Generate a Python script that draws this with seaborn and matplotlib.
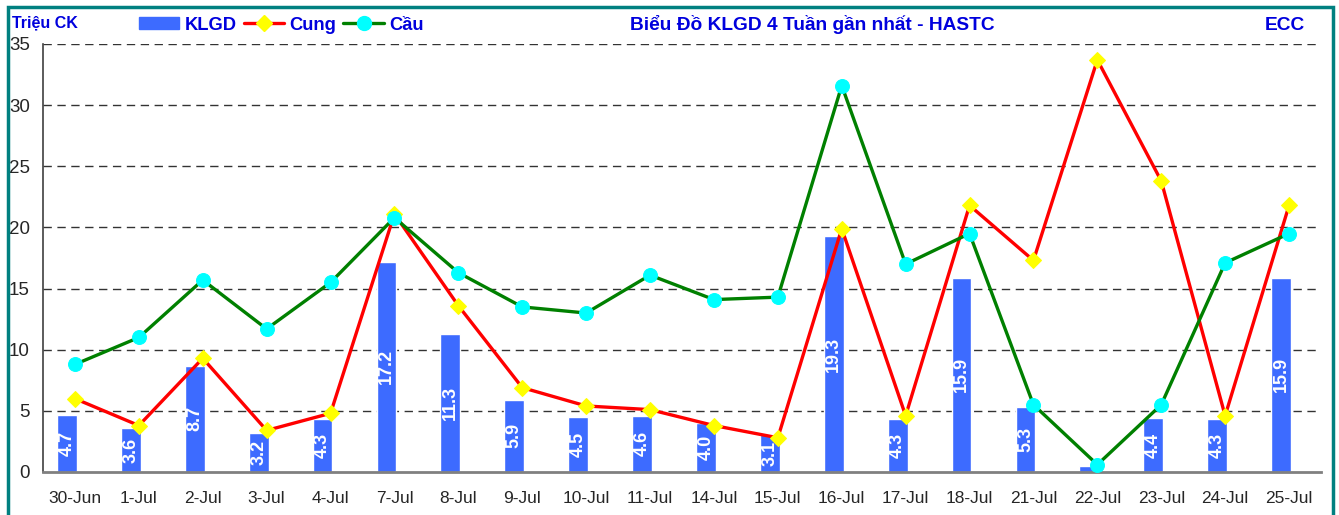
import matplotlib
matplotlib.use('Agg')
import matplotlib.pyplot as plt
import matplotlib.patches as mpatches
from matplotlib.lines import Line2D
import seaborn as sns
import pandas as pd
import numpy as np

# du lieu doc tu bieu do
dates = ['30-Jun', '1-Jul', '2-Jul', '3-Jul', '4-Jul', '7-Jul', '8-Jul', '9-Jul', '10-Jul', '11-Jul',
         '14-Jul', '15-Jul', '16-Jul', '17-Jul', '18-Jul', '21-Jul', '22-Jul', '23-Jul', '24-Jul', '25-Jul']
klgd = [4.7, 3.6, 8.7, 3.2, 4.3, 17.2, 11.3, 5.9, 4.5, 4.6,
        4.0, 3.1, 19.3, 4.3, 15.9, 5.3, 0.5, 4.4, 4.3, 15.9]
cung = [6.0, 3.8, 9.3, 3.4, 4.8, 21.1, 13.6, 6.9, 5.4, 5.1,
        3.8, 2.8, 19.9, 4.6, 21.8, 17.3, 33.7, 23.8, 4.6, 21.8]
cau = [8.8, 11.0, 15.7, 11.7, 15.5, 20.8, 16.3, 13.5, 13.0, 16.1,
       14.1, 14.3, 31.6, 17.0, 19.5, 5.5, 0.6, 5.5, 17.1, 19.5]

BAR_COLOR = '#3D6BFF'
TXT_BLUE = '#0000DD'

sns.set_style('white')
plt.rcParams['font.family'] = ['Liberation Sans', 'DejaVu Sans']

fig = plt.figure(figsize=(13.39, 5.15), dpi=100)
ax = fig.add_axes([43 / 1339, 43 / 515, 1278 / 1339, 428 / 515])

# cot KLGD (them mot nhom rong de cot lech trai nhu Excel)
df = pd.DataFrame({
    'ngay': dates * 2,
    'gt': klgd + [0] * len(dates),
    'loai': ['KLGD'] * len(dates) + ['pad'] * len(dates),
})
sns.barplot(data=df, x='ngay', y='gt', hue='loai', hue_order=['KLGD', 'pad'],
            palette={'KLGD': BAR_COLOR, 'pad': (1, 1, 1, 0)}, width=0.6, gap=0,
            dodge=True, legend=False, ax=ax, saturation=1, zorder=2)

bars = ax.containers[0]
for b in bars:
    b.set_x(b.get_x() + 0.02)
    b.set_width(0.31)
labels = [f'{v:.1f}' if v >= 1 else '' for v in klgd]
ax.bar_label(bars, labels=labels, label_type='center', rotation=90, color='white',
             fontsize=13, fontweight='bold')

x = np.arange(len(dates))
sns.lineplot(x=x, y=cung, ax=ax, color='#FF0000', lw=2.4, marker='D', markersize=8,
             markerfacecolor='#FFFF00', markeredgecolor='#FFFF00', zorder=4)
sns.lineplot(x=x, y=cau, ax=ax, color='#008000', lw=2.4, marker='o', markersize=10,
             markerfacecolor='#00FFFF', markeredgecolor='#00FFFF', zorder=5)

ax.set_xlim(-0.5, len(dates) - 0.5)
ax.set_ylim(0, 35)
ax.set_yticks(range(0, 36, 5))
ax.set_xticks(x)
ax.set_xticklabels(dates, fontsize=12.5)
ax.tick_params(axis='y', labelsize=13.5, direction='inout', length=7, width=1, pad=6)
ax.tick_params(axis='x', length=0, pad=14)
ax.set_xlabel('')
ax.set_ylabel('')

for y in range(5, 36, 5):
    ax.axhline(y, color='#333333', lw=1, dashes=(6, 4), zorder=1)

for s in ['top', 'right']:
    ax.spines[s].set_visible(False)
ax.spines['left'].set_color('#404040')
ax.spines['left'].set_linewidth(1.2)
ax.spines['bottom'].set_color('#808080')
ax.spines['bottom'].set_linewidth(2)

# chu tren dau
fig.text(12 / 1339, 1 - 23 / 515, 'Triệu CK', color=TXT_BLUE, fontsize=11.5,
         fontweight='bold', va='center', ha='left')
fig.text(812 / 1339, 1 - 25 / 515, 'Biểu Đồ KLGD 4 Tuần gần nhất - HASTC', color=TXT_BLUE,
         fontsize=13.8, fontweight='bold', va='center', ha='center',
         family=['Liberation Sans Narrow', 'Liberation Sans'])
fig.text(1305 / 1339, 1 - 25 / 515, 'ECC', color=TXT_BLUE, fontsize=13.8,
         fontweight='bold', va='center', ha='right',
         family=['Liberation Sans Narrow', 'Liberation Sans'])

handles = [
    mpatches.Patch(color=BAR_COLOR),
    Line2D([], [], color='#FF0000', lw=2.4, marker='D', markersize=8,
           markerfacecolor='#FFFF00', markeredgecolor='#FFFF00'),
    Line2D([], [], color='#008000', lw=2.4, marker='o', markersize=10,
           markerfacecolor='#00FFFF', markeredgecolor='#00FFFF'),
]
leg = fig.legend(handles, ['KLGD', 'Cung', 'Cầu'], loc='center left',
                 bbox_to_anchor=(139 / 1339, 1 - 25 / 515), ncol=3, frameon=False,
                 prop={'weight': 'bold', 'size': 13.2}, labelcolor=TXT_BLUE,
                 handlelength=2.2, handleheight=0.6, handletextpad=0.28,
                 columnspacing=0.4, borderpad=0, borderaxespad=0)

# khung vien xanh
fig.patches.append(mpatches.Rectangle((8 / 1339, -0.05), 1325 / 1339, 1.05 - 7 / 515,
                                      transform=fig.transFigure, fill=False,
                                      edgecolor='#008080', lw=2.5))

fig.savefig('out.png', dpi=100)
